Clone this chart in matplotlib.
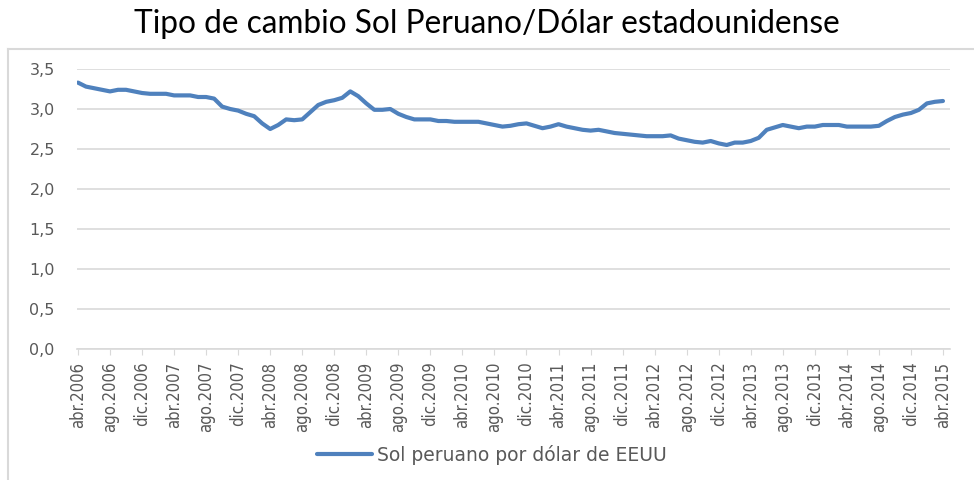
import numpy as np
import matplotlib.pyplot as plt
from matplotlib.lines import Line2D

# monthly average, abr.2006 .. abr.2015
years = list(range(2006, 2016))
month_names = ['ene', 'feb', 'mar', 'abr', 'may', 'jun', 'jul', 'ago', 'sep', 'oct', 'nov', 'dic']

sol_dolar = [
    3.33, 3.28, 3.26, 3.24, 3.22, 3.24, 3.24, 3.22, 3.20,              # 2006 abr-dic
    3.19, 3.19, 3.19, 3.17, 3.17, 3.17, 3.15, 3.15, 3.13, 3.03, 3.00, 2.98,  # 2007
    2.94, 2.91, 2.82, 2.75, 2.80, 2.87, 2.86, 2.87, 2.96, 3.05, 3.09, 3.11,  # 2008
    3.14, 3.22, 3.16, 3.07, 2.99, 2.99, 3.00, 2.94, 2.90, 2.87, 2.87, 2.87,  # 2009
    2.85, 2.85, 2.84, 2.84, 2.84, 2.84, 2.82, 2.80, 2.78, 2.79, 2.81, 2.82,  # 2010
    2.79, 2.76, 2.78, 2.81, 2.78, 2.76, 2.74, 2.73, 2.74, 2.72, 2.70, 2.69,  # 2011
    2.68, 2.67, 2.66, 2.66, 2.66, 2.67, 2.63, 2.61, 2.59, 2.58, 2.60, 2.57,  # 2012
    2.55, 2.58, 2.58, 2.60, 2.64, 2.74, 2.77, 2.80, 2.78, 2.76, 2.78, 2.78,  # 2013
    2.80, 2.80, 2.80, 2.78, 2.78, 2.78, 2.78, 2.79, 2.85, 2.90, 2.93, 2.95,  # 2014
    2.99, 3.07, 3.09, 3.10,                                            # 2015 ene-abr
]

series_label = 'Sol peruano por dólar de EEUU'
title = 'Tipo de cambio Sol Peruano/Dólar estadounidense'

# build the label for each month
labels = []
for y in years:
    for m in month_names:
        labels.append('%s.%d' % (m, y))
labels = labels[3:3 + len(sol_dolar)]

blue = '#4f81bd'
grey_text = '#595959'
grid_col = '#d9d9d9'

fig = plt.figure(figsize=(9.74, 4.8), dpi=100)
ax = fig.add_axes([77 / 974, 131 / 480, 873 / 974, 280 / 480])

x = np.arange(len(sol_dolar))
line, = ax.plot(x, sol_dolar, color=blue, lw=3.0, solid_capstyle='round',
                solid_joinstyle='round', label=series_label)

ax.set_ylim(0, 3.5)
ax.set_xlim(-0.12, len(sol_dolar) - 0.12)
yt = np.arange(0, 3.51, 0.5)
ax.set_yticks(yt)
ax.set_yticklabels([('%.1f' % v).replace('.', ',') for v in yt],
                   color=grey_text, fontsize=11.5, family='DejaVu Sans')
ax.tick_params(axis='y', length=0, pad=16)

ax.set_xticks(x[::4])
ax.set_xticklabels(labels[::4], rotation=90, color=grey_text, fontsize=12,
                   family='DejaVu Sans', fontstretch='condensed')
ax.tick_params(axis='x', length=4, color=grid_col, pad=5)

ax.grid(axis='y', color=grid_col, lw=1.2)
ax.set_axisbelow(True)
for s in ['top', 'right', 'left']:
    ax.spines[s].set_visible(False)
ax.spines['bottom'].set_color(grid_col)
ax.spines['bottom'].set_linewidth(1.2)

fig.text(0.5, 1 - 24 / 480, title, ha='center', va='center', fontsize=22.8,
         family='Lato', color='black')

leg = fig.legend(handles=[line], loc='center', bbox_to_anchor=(492 / 974, 1 - 455 / 480),
                 frameon=False, handlelength=2.9, handletextpad=0.3,
                 prop={'family': 'DejaVu Sans', 'size': 13.5})
for t in leg.get_texts():
    t.set_color(grey_text)

# outer chart border (left and top edges visible)
fig.add_artist(Line2D([8 / 974, 8 / 974], [0, 1 - 49 / 480], color='#d9d9d9', lw=1.5))
fig.add_artist(Line2D([8 / 974, 1], [1 - 49 / 480, 1 - 49 / 480], color='#d9d9d9', lw=1.5))

plt.savefig('out.png', dpi=100)
